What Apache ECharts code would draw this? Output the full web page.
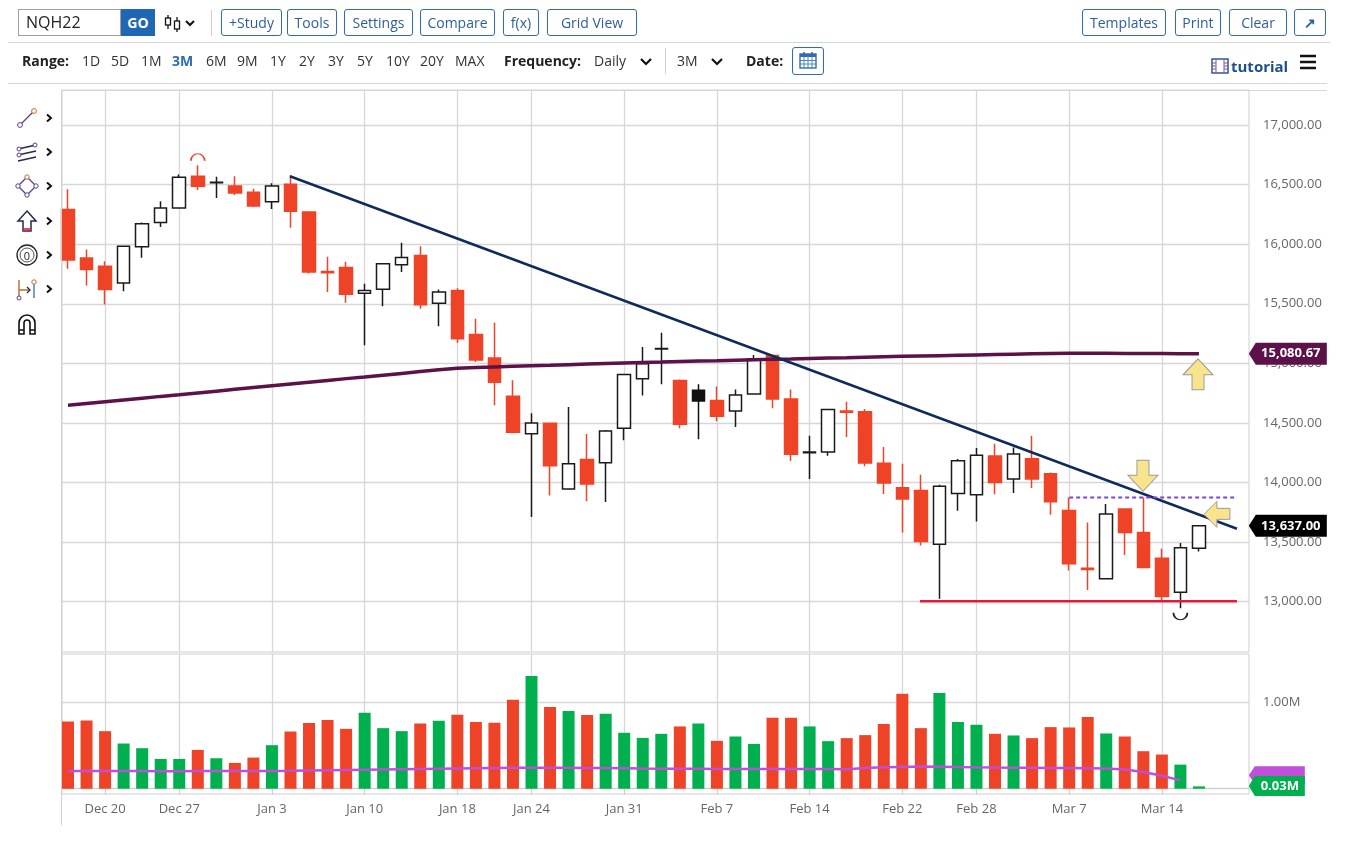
<!DOCTYPE html>
<html>
<head>
<meta charset="utf-8">
<script src="https://cdn.jsdelivr.net/npm/echarts@6.0.0/dist/echarts.min.js"></script>
<style>
  body { margin: 0; background: #fff; font-family: "Open Sans", sans-serif; }
  #chart { position: absolute; left: 0; top: 0; width: 1357px; height: 845px; }
  .ui { position: absolute; z-index: 5; }
  .btn { position: absolute; z-index: 5; top: 9px; height: 25px; border: 1px solid #2e6db4; border-radius: 3px;
         color: #2c5e9c; font-size: 14px; line-height: 25px; text-align: center; box-sizing: content-box; }
  .r2 { position: absolute; z-index: 5; top: 51px; font-size: 14px; line-height: 20px; color: #333; }
  .b { font-weight: bold; color: #222; }
  .hl { position: absolute; z-index: 5; height: 1px; background: #d6d6d6; }
  .tool { position: absolute; z-index: 5; left: 15px; width: 24px; height: 24px; }
  .chev { position: absolute; z-index: 5; left: 45px; width: 8px; height: 10px; }
</style>
</head>
<body>
<!-- toolbar row 1 -->
<div class="ui" style="left:18px;top:9px;width:94px;height:25px;border:1px solid #a0a0a0;padding-left:7px;font-size:16px;line-height:25px;color:#222;">NQH22</div>
<div class="ui" style="left:121px;top:9px;width:34px;height:27px;background:#1f66b5;color:#fff;font-weight:bold;font-size:14px;line-height:27px;text-align:center;">GO</div>
<svg class="ui" style="left:164px;top:12px" width="36" height="22" viewBox="0 0 36 22">
  <line x1="4" y1="3" x2="4" y2="17" stroke="#111" stroke-width="1.3"/>
  <rect x="1.5" y="6" width="5" height="7" fill="#fff" stroke="#111" stroke-width="1.3"/>
  <line x1="13" y1="5" x2="13" y2="20" stroke="#111" stroke-width="1.3"/>
  <rect x="10.5" y="9" width="5" height="8" fill="#fff" stroke="#111" stroke-width="1.3"/>
  <polyline points="22,9 26,13 30,9" fill="none" stroke="#111" stroke-width="2"/>
</svg>
<div class="ui" style="left:211px;top:10px;width:1px;height:26px;background:#d0d0d0;"></div>
<div class="btn" style="left:221px;width:59px;">+Study</div>
<div class="btn" style="left:287px;width:48px;">Tools</div>
<div class="btn" style="left:344px;width:67px;">Settings</div>
<div class="btn" style="left:420px;width:73px;">Compare</div>
<div class="btn" style="left:503px;width:34px;">f(x)</div>
<div class="btn" style="left:547px;width:88px;">Grid View</div>
<div class="btn" style="left:1082px;width:82px;">Templates</div>
<div class="btn" style="left:1175px;width:44px;">Print</div>
<div class="btn" style="left:1229px;width:56px;">Clear</div>
<div class="btn" style="left:1294px;width:30px;font-weight:bold;">&#8599;</div>
<div class="hl" style="left:8px;top:42px;width:1322px;"></div>

<!-- toolbar row 2 -->
<div class="r2 b" style="left:22px;">Range:</div>
<div class="r2" style="left:82px;">1D</div>
<div class="r2" style="left:111px;">5D</div>
<div class="r2" style="left:141px;">1M</div>
<div class="r2 b" style="left:172px;color:#2a6cb8;">3M</div>
<div class="r2" style="left:206px;">6M</div>
<div class="r2" style="left:237px;">9M</div>
<div class="r2" style="left:270px;">1Y</div>
<div class="r2" style="left:299px;">2Y</div>
<div class="r2" style="left:328px;">3Y</div>
<div class="r2" style="left:357px;">5Y</div>
<div class="r2" style="left:386px;">10Y</div>
<div class="r2" style="left:420px;">20Y</div>
<div class="r2" style="left:455px;">MAX</div>
<div class="r2 b" style="left:504px;">Frequency:</div>
<div class="r2" style="left:594px;">Daily</div>
<svg class="ui" style="left:639px;top:57px" width="14" height="10"><polyline points="2,2 7,7 12,2" fill="none" stroke="#111" stroke-width="2.2"/></svg>
<div class="ui" style="left:665px;top:48px;width:1px;height:26px;background:#d0d0d0;"></div>
<div class="r2" style="left:677px;">3M</div>
<svg class="ui" style="left:710px;top:57px" width="14" height="10"><polyline points="2,2 7,7 12,2" fill="none" stroke="#111" stroke-width="2.2"/></svg>
<div class="r2 b" style="left:746px;">Date:</div>
<div class="ui" style="left:792px;top:47px;width:30px;height:26px;border:1px solid #2e6db4;border-radius:3px;"></div>
<svg class="ui" style="left:798px;top:50px" width="20" height="20" viewBox="0 0 20 20">
  <rect x="2" y="4" width="16" height="14" fill="#fff" stroke="#2e6db4" stroke-width="1.4"/>
  <rect x="2" y="4" width="16" height="3" fill="#2e6db4"/>
  <line x1="6" y1="2" x2="6" y2="6" stroke="#2e6db4" stroke-width="1.6"/>
  <line x1="14" y1="2" x2="14" y2="6" stroke="#2e6db4" stroke-width="1.6"/>
  <path d="M2 10.5H18M2 14H18M6 7V18M10 7V18M14 7V18" stroke="#2e6db4" stroke-width="0.8"/>
</svg>
<svg class="ui" style="left:1211px;top:58px" width="18" height="16" viewBox="0 0 18 16">
  <rect x="1" y="1" width="16" height="14" fill="#fff" stroke="#1c4f8c" stroke-width="1.4"/>
  <path d="M5 1V15M13 1V15M1 5H5M1 8H5M1 11H5M13 5H17M13 8H17M13 11H17" stroke="#8a4fa8" stroke-width="1"/>
</svg>
<div class="ui" style="left:1231px;top:55px;font-size:15px;font-weight:bold;color:#1c4f8c;line-height:22px;">tutorial</div>
<svg class="ui" style="left:1299px;top:54px" width="18" height="16"><path d="M1 2H17M1 8H17M1 14H17" stroke="#111" stroke-width="2.6"/></svg>
<div class="hl" style="left:8px;top:83px;width:1319px;"></div>
<div class="hl" style="left:62px;top:90px;width:1265px;"></div>
<div class="ui" style="left:61px;top:90px;width:1px;height:735px;background:#d0d0d0;"></div>

<!-- drawing tools -->
<svg class="tool" style="top:106px" viewBox="0 0 24 24"><line x1="5" y1="19" x2="19" y2="5" stroke="#5a3d8f" stroke-width="1.3"/><circle cx="5" cy="19" r="2.4" fill="#fff" stroke="#5a3d8f"/><circle cx="19" cy="5" r="2.4" fill="#fff" stroke="#c26a2a"/></svg>
<svg class="chev" style="top:113px" viewBox="0 0 8 10"><polyline points="2,1.5 6,5 2,8.5" fill="none" stroke="#111" stroke-width="2"/></svg>
<svg class="tool" style="top:140px" viewBox="0 0 24 24"><path d="M3 9L21 5M3 15L21 11M3 21L21 17" stroke="#2a2a4a" stroke-width="1.3"/><circle cx="4" cy="9" r="2" fill="#fff" stroke="#5a3d8f"/><circle cx="20" cy="5" r="2" fill="#fff" stroke="#5a3d8f"/><circle cx="4" cy="15" r="2" fill="#fff" stroke="#5a3d8f"/></svg>
<svg class="chev" style="top:147px" viewBox="0 0 8 10"><polyline points="2,1.5 6,5 2,8.5" fill="none" stroke="#111" stroke-width="2"/></svg>
<svg class="tool" style="top:174px" viewBox="0 0 24 24"><path d="M12 3L21 12L12 21L3 12Z" fill="none" stroke="#5a3d8f" stroke-width="1.3"/><circle cx="12" cy="3" r="2.2" fill="#fff" stroke="#c26a2a"/><circle cx="21" cy="12" r="2.2" fill="#fff" stroke="#5a3d8f"/><circle cx="12" cy="21" r="2.2" fill="#fff" stroke="#5a3d8f"/><circle cx="3" cy="12" r="2.2" fill="#fff" stroke="#5a3d8f"/></svg>
<svg class="chev" style="top:181px" viewBox="0 0 8 10"><polyline points="2,1.5 6,5 2,8.5" fill="none" stroke="#111" stroke-width="2"/></svg>
<svg class="tool" style="top:209px" viewBox="0 0 24 24"><path d="M12 2L21 12H16V22H8V12H3Z" fill="#fff" stroke="#1c2a55" stroke-width="1.5"/><path d="M8 19H16V22H8Z" fill="#d23" opacity="0.8"/></svg>
<svg class="chev" style="top:216px" viewBox="0 0 8 10"><polyline points="2,1.5 6,5 2,8.5" fill="none" stroke="#111" stroke-width="2"/></svg>
<svg class="tool" style="top:243px" viewBox="0 0 24 24"><circle cx="12" cy="12" r="10" fill="none" stroke="#222" stroke-width="1.3"/><circle cx="12" cy="12" r="7" fill="none" stroke="#222" stroke-width="0.8"/><text x="12" y="16.5" text-anchor="middle" font-size="11" font-family="Open Sans" fill="#222">0</text></svg>
<svg class="chev" style="top:250px" viewBox="0 0 8 10"><polyline points="2,1.5 6,5 2,8.5" fill="none" stroke="#111" stroke-width="2"/></svg>
<svg class="tool" style="top:277px" viewBox="0 0 24 24"><path d="M4 3V21M4 13H15" stroke="#c26a2a" stroke-width="1.4"/><path d="M12 10L15 13L12 16" fill="none" stroke="#1c2a55" stroke-width="1.3"/><path d="M19 7V21" stroke="#3a7ac0" stroke-width="1.4"/><circle cx="19" cy="5" r="2.2" fill="#fff" stroke="#c26a2a"/><circle cx="4" cy="21" r="2" fill="#fff" stroke="#5a3d8f"/></svg>
<svg class="chev" style="top:284px" viewBox="0 0 8 10"><polyline points="2,1.5 6,5 2,8.5" fill="none" stroke="#111" stroke-width="2"/></svg>
<svg class="tool" style="top:312px" viewBox="0 0 24 24"><path d="M4 22V11A8 8 0 0 1 20 11V22H15V11A3 3 0 0 0 9 11V22Z" fill="#fff" stroke="#111" stroke-width="1.6"/><path d="M4 18H9M15 18H20" stroke="#111" stroke-width="1.4"/></svg>

<div id="chart"></div>
<script>
// ---- data (NQH22 daily, Dec 16 - Mar 16) ----
const dates = ['Dec 16','Dec 17','Dec 20','Dec 21','Dec 22','Dec 23','Dec 27','Dec 28','Dec 29','Dec 30','Dec 31',
  'Jan 3','Jan 4','Jan 5','Jan 6','Jan 7','Jan 10','Jan 11','Jan 12','Jan 13','Jan 14','Jan 18','Jan 19','Jan 20','Jan 21',
  'Jan 24','Jan 25','Jan 26','Jan 27','Jan 28','Jan 31','Feb 1','Feb 2','Feb 3','Feb 4','Feb 7','Feb 8','Feb 9','Feb 10','Feb 11',
  'Feb 14','Feb 15','Feb 16','Feb 17','Feb 18','Feb 22','Feb 23','Feb 24','Feb 25','Feb 28','Mar 1','Mar 2','Mar 3','Mar 4',
  'Mar 7','Mar 8','Mar 9','Mar 10','Mar 11','Mar 14','Mar 15','Mar 16'];
const opens = [16292,15884,15814,15674,15979,16183,16304,16570,16515,16489,16435,16357,16503,16270,15770,15805,15589,15623,15828,15906,
  15505,15612,15242,15046,14724,14410,14497,13945,14194,14166,14455,14870,15120,14856,14774,14688,14601,14743,15066,14702,
  14250,14256,14600,14595,14161,13957,13934,13483,13909,13898,14223,14029,14200,14074,13766,13280,13192,13777,13581,13365,13080,13449];
const closes = [15867,15788,15620,15982,16172,16304,16561,16486,16520,16430,16321,16489,16276,15766,15760,15581,15611,15836,15889,15491,
  15598,15206,15029,14842,14421,14500,14141,14158,13987,14433,14906,14996,15125,14489,14685,14556,14735,15038,14702,14237,
  14256,14612,14590,14164,13996,13861,13506,13968,14183,14228,14001,14239,14029,13839,13318,13270,13735,13581,13287,13043,13452,13637];
const lows = [15794,15654,15494,15606,15886,16144,16300,16455,16388,16413,16312,16295,16138,15755,15598,15508,15152,15480,15766,15458,
  15312,15172,15012,14648,14413,13710,13892,13945,13844,13836,14354,14730,14825,14455,14363,14514,14466,14740,14623,14181,
  14029,14225,14382,14136,13903,13581,13472,13024,13763,13674,13901,13912,13954,13730,13262,13099,13192,13393,13281,13015,12945,13422];
const highs = [16461,15956,15856,15990,16183,16360,16584,16662,16567,16570,16466,16511,16578,16276,15895,15853,15668,15840,16012,15982,
  15620,15630,15374,15340,14858,14581,14497,14634,14407,14441,14910,15138,15256,14864,14825,14805,14780,15071,15070,14780,
  14393,14620,14679,14617,14298,14158,14066,13982,14197,14290,14326,14295,14393,14085,13875,13665,13819,13780,13875,13444,13492,13640];
// volume in millions
const volumes = [0.782,0.794,0.669,0.525,0.471,0.346,0.346,0.451,0.354,0.300,0.362,0.506,0.665,0.763,0.798,0.696,0.883,0.704,0.669,0.759,
  0.790,0.860,0.774,0.767,1.035,1.311,0.949,0.903,0.856,0.872,0.650,0.591,0.638,0.724,0.759,0.556,0.607,0.521,0.825,0.825,
  0.724,0.553,0.588,0.623,0.751,1.105,0.704,1.113,0.774,0.743,0.638,0.619,0.588,0.716,0.712,0.833,0.642,0.607,0.436,0.397,0.280,0.027];
// long moving average on price
const priceMA = [14648,14663,14678,14693,14708,14723,14737,14752,14767,14782,14797,14812,14827,14842,14857,14872,14886,14901,14916,14931,
  14946,14960,14965,14970,14975,14980,14984,14989,14994,14999,15004,15008,15011,15015,15019,15022,15026,15030,15034,15037,
  15041,15045,15048,15052,15056,15059,15062,15065,15068,15071,15074,15077,15080,15082,15084,15084,15084,15083,15083,15082,15081,15080.67];
// moving average on volume (millions)
const volumeMA = [0.206,0.206,0.206,0.205,0.205,0.204,0.204,0.205,0.205,0.206,0.206,0.207,0.209,0.212,0.215,0.218,0.221,0.224,0.227,0.230,
  0.233,0.236,0.239,0.242,0.245,0.245,0.244,0.243,0.242,0.240,0.238,0.235,0.233,0.232,0.231,0.230,0.229,0.228,0.228,0.229,
  0.229,0.228,0.227,0.240,0.248,0.253,0.257,0.256,0.251,0.248,0.246,0.245,0.243,0.241,0.240,0.238,0.235,0.222,0.195,0.150,0.097,null];
// drawn studies: [bar index, price]
const trendLine = [[11.97, 16570], [63.05, 13612]];
const supportLine = [[45.95, 13004], [63.05, 13004]];
const resistLine = [[54.0, 13875], [63.05, 13875]];
const xLabels = ['Dec 20','Dec 27','Jan 3','Jan 10','Jan 18','Jan 24','Jan 31','Feb 7','Feb 14','Feb 22','Feb 28','Mar 7','Mar 14'];
const priceTicks = [13000, 13500, 14000, 14500, 15000, 15500, 16000, 16500, 17000];
const volumeTicks = [0, 1];
const lastPrice = 13637.00, lastVolume = 0.03;

const RED = '#ef4328', GREEN = '#00af4e';
const xMin = -0.324, xMax = 63.7;
const xTicks = xLabels.map(d => dates.indexOf(d));

const candles = dates.map((d, i) => {
  const item = { value: [i, opens[i], closes[i], lows[i], highs[i]] };
  // down day that still closed above prior close -> black filled
  if (closes[i] < opens[i] && i > 0 && closes[i] > closes[i - 1]) {
    item.itemStyle = { color0: '#111', borderColor0: '#111' };
  }
  return item;
});
const volBars = volumes.map((v, i) => ({
  value: [i, v],
  itemStyle: { color: (i > 0 && closes[i] >= closes[i - 1]) ? GREEN : RED }
}));

const hiIdx = highs.indexOf(Math.max(...highs.slice(0, 20)));
const loIdx = lows.indexOf(Math.min(...lows));

const arrowDown = 'path://M9 0L21 0L21 15L30 15L15 31L0 15L9 15Z';
const arrowLeft = 'path://M0 13L13 0L13 7L26 7L26 18L13 18L13 26Z';
const arrowUp = 'path://M15 0L30 16L21 16L21 31L9 31L9 16L0 16Z';
const tagPath = 'path://M0 11L7 0L78 0L78 22L7 22Z';
const arrowStyle = { color: '#f8e48c', borderColor: '#9b9b9b', borderWidth: 1 };
const fmtPrice = v => v.toLocaleString('en-US', { minimumFractionDigits: 2, maximumFractionDigits: 2 });

const gridLine = { show: true, lineStyle: { color: '#d7d7d7', width: 1.3 } };
const axisText = { color: '#666', fontSize: 13, fontFamily: 'Open Sans' };

const chart = echarts.init(document.getElementById('chart'));
chart.setOption({
  animation: false,
  textStyle: { fontFamily: 'Open Sans' },
  grid: [
    { left: 62, top: 90, width: 1187, height: 562, show: true, borderColor: '#cfcfcf', borderWidth: 1 },
    { left: 62, top: 654, width: 1187, height: 140, show: true, borderColor: '#cfcfcf', borderWidth: 1 }
  ],
  xAxis: [
    { type: 'value', gridIndex: 0, min: xMin, max: xMax,
      axisLine: { show: false }, axisTick: { show: false, customValues: xTicks },
      axisLabel: { show: false, customValues: xTicks }, splitLine: gridLine },
    { type: 'value', gridIndex: 1, min: xMin, max: xMax,
      axisLine: { show: true, lineStyle: { color: '#cfcfcf' } },
      axisTick: { show: true, length: 6, lineStyle: { color: '#cfcfcf' }, customValues: xTicks },
      axisLabel: Object.assign({ customValues: xTicks, margin: 9, formatter: v => dates[Math.round(v)] }, axisText),
      splitLine: gridLine }
  ],
  yAxis: [
    { type: 'value', gridIndex: 0, position: 'right', min: 12578, max: 17294,
      axisLine: { show: false }, axisTick: { show: false, customValues: priceTicks },
      axisLabel: Object.assign({ customValues: priceTicks, margin: 14, formatter: fmtPrice }, axisText),
      splitLine: gridLine },
    { type: 'value', gridIndex: 1, position: 'right', min: -0.0616, max: 1.566,
      axisLine: { show: false }, axisTick: { show: false, customValues: volumeTicks },
      axisLabel: Object.assign({ customValues: volumeTicks, margin: 14, formatter: v => v > 0 ? v.toFixed(2) + 'M' : '' }, axisText),
      splitLine: gridLine }
  ],
  series: [
    { type: 'candlestick', xAxisIndex: 0, yAxisIndex: 0, encode: { x: 0, y: [1, 2, 3, 4] },
      barWidth: 13, z: 2,
      itemStyle: { color: '#fff', color0: RED, borderColor: '#1a1a1a', borderColor0: RED, borderWidth: 1.5 },
      data: candles,
      markPoint: {
        z: 10,
        label: { show: false },
        data: [
          { coord: [hiIdx, highs[hiIdx]], symbol: 'path://M1 8A6.5 6.5 0 0 1 14 8', symbolSize: [14, 7], symbolOffset: [0, -8],
            itemStyle: { color: 'transparent', borderColor: RED, borderWidth: 1.3 } },
          { coord: [loIdx, lows[loIdx]], symbol: 'path://M1 0A6.5 6.5 0 0 0 14 0', symbolSize: [14, 7], symbolOffset: [0, 8],
            itemStyle: { color: 'transparent', borderColor: '#222', borderWidth: 1.3 } },
          { coord: [57.98, 14057], symbol: arrowDown, symbolSize: [30, 31], itemStyle: arrowStyle },
          { coord: [61.97, 13733], symbol: arrowLeft, symbolSize: [26, 26], itemStyle: arrowStyle },
          { coord: [60.95, 14908], symbol: arrowUp, symbolSize: [30, 31], itemStyle: arrowStyle },
          { coord: [xMax - 0.01, priceMA[priceMA.length - 1]], symbol: tagPath, symbolSize: [78, 22], symbolOffset: [39, 0],
            itemStyle: { color: '#5c1149' },
            label: { show: true, position: 'inside', offset: [3, 0], formatter: fmtPrice(priceMA[priceMA.length - 1]),
                     color: '#fff', fontWeight: 'bold', fontSize: 13 } },
          { coord: [xMax - 0.01, lastPrice], symbol: tagPath, symbolSize: [78, 22], symbolOffset: [39, 0],
            itemStyle: { color: '#000' },
            label: { show: true, position: 'inside', offset: [3, 0], formatter: fmtPrice(lastPrice),
                     color: '#fff', fontWeight: 'bold', fontSize: 13 } }
        ]
      } },
    { type: 'line', xAxisIndex: 0, yAxisIndex: 0, z: 3, showSymbol: false, symbol: 'none',
      lineStyle: { color: '#5c1149', width: 3.5 }, data: priceMA.map((v, i) => [i, v]) },
    { type: 'line', xAxisIndex: 0, yAxisIndex: 0, z: 4, symbol: 'none',
      lineStyle: { color: '#0f2b5b', width: 2.5 }, data: trendLine },
    { type: 'line', xAxisIndex: 0, yAxisIndex: 0, z: 4, symbol: 'none',
      lineStyle: { color: '#e8183c', width: 2.5 }, data: supportLine },
    { type: 'line', xAxisIndex: 0, yAxisIndex: 0, z: 4, symbol: 'none',
      lineStyle: { color: '#7a47d4', width: 2, type: [4, 3] }, data: resistLine },
    { type: 'bar', xAxisIndex: 1, yAxisIndex: 1, barWidth: 12, z: 2, data: volBars,
      markPoint: {
        z: 10,
        data: [
          { coord: [xMax - 0.01, volumeMA[volumeMA.length - 2]], symbol: 'path://M0 9L6 0L56 0L56 18L6 18Z',
            symbolSize: [56, 18], symbolOffset: [28, -5], itemStyle: { color: '#c050d8' }, label: { show: false } },
          { coord: [xMax - 0.01, lastVolume], symbol: 'path://M0 10L6 0L56 0L56 20L6 20Z',
            symbolSize: [56, 20], symbolOffset: [28, 0], itemStyle: { color: GREEN },
            label: { show: true, position: 'inside', offset: [3, 0], formatter: lastVolume.toFixed(2) + 'M',
                     color: '#fff', fontWeight: 'bold', fontSize: 13 } }
        ]
      } },
    { type: 'line', xAxisIndex: 1, yAxisIndex: 1, z: 3, symbol: 'none',
      lineStyle: { color: '#bf4fd9', width: 2.5 }, data: volumeMA.map((v, i) => [i, v]) }
  ]
});
</script>
</body>
</html>
